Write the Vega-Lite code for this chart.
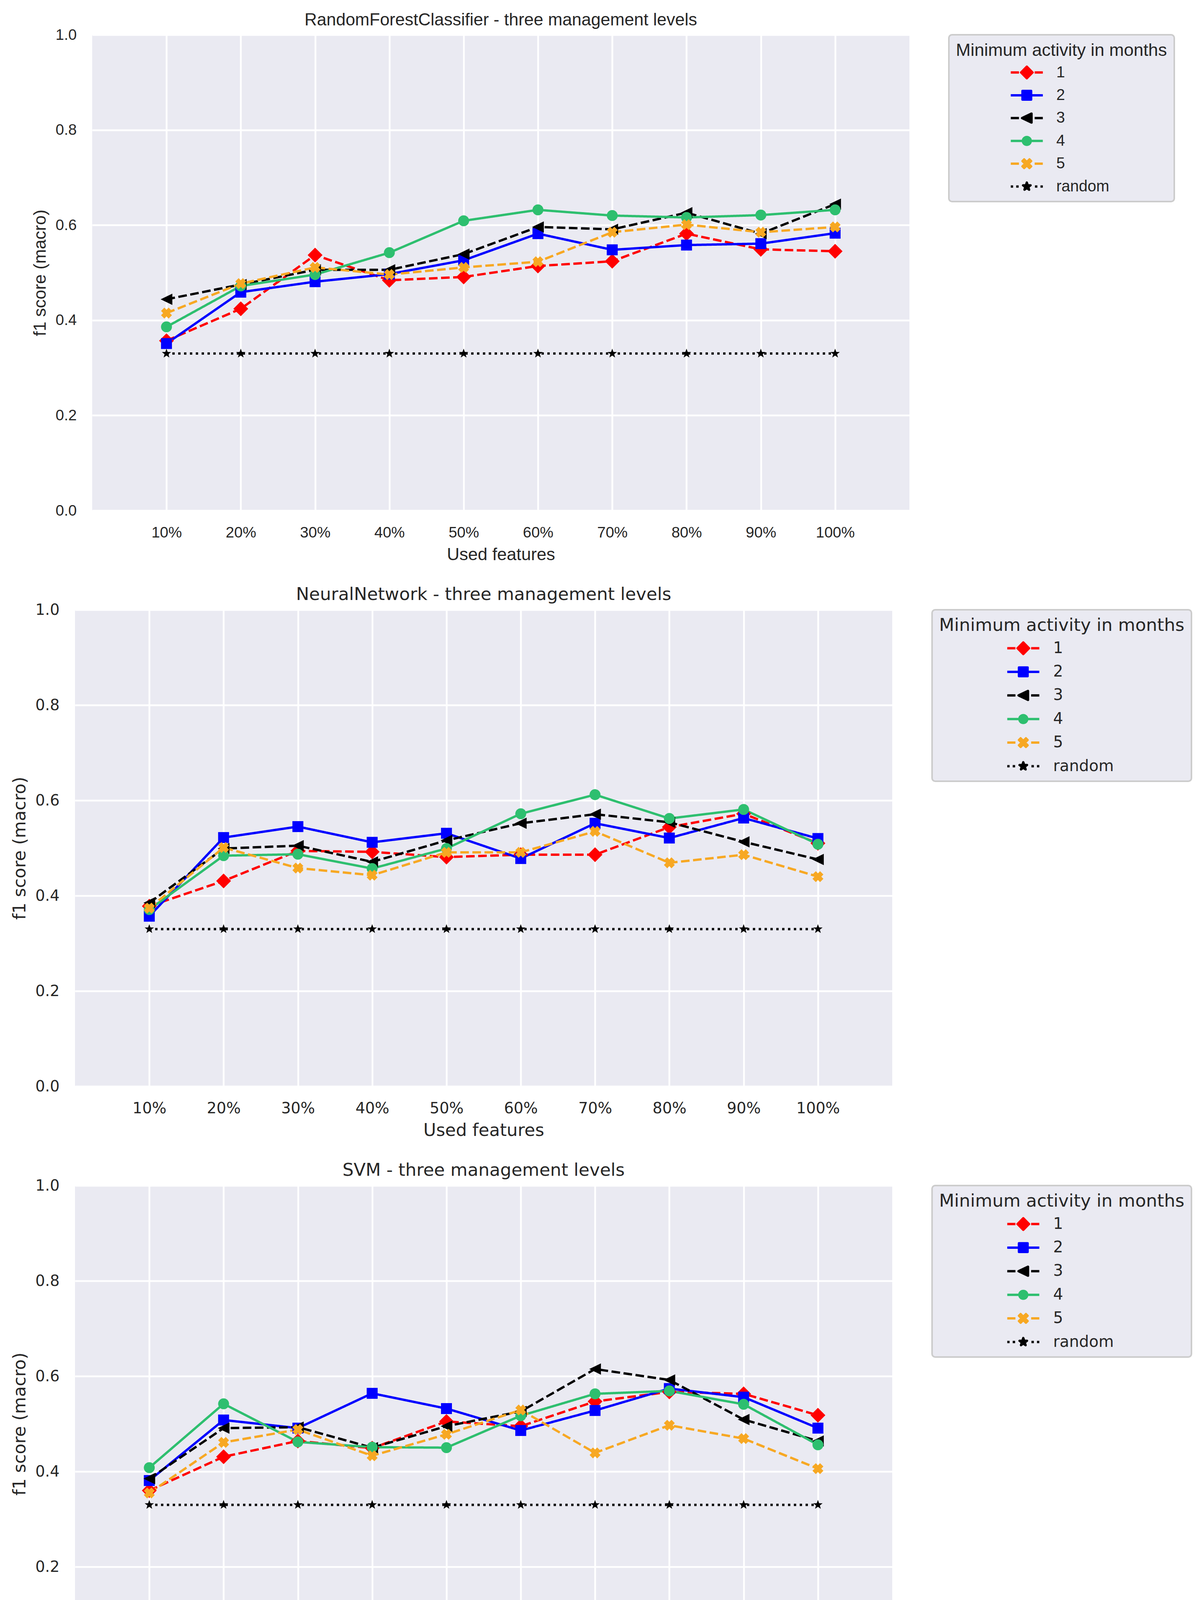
{
"$schema": "https://vega.github.io/schema/vega-lite/v6.json",
"background": "white",
"padding": {"left": 28, "top": 30, "right": 0, "bottom": 0},
"config": {"view": {"stroke": null, "fill": "#EAEAF2"}},
"datasets": {
"rf": [
{"s":"1","p":10,"f1":0.357},{"s":"1","p":20,"f1":0.424},{"s":"1","p":30,"f1":0.537},{"s":"1","p":40,"f1":0.484},{"s":"1","p":50,"f1":0.491},{"s":"1","p":60,"f1":0.514},{"s":"1","p":70,"f1":0.524},{"s":"1","p":80,"f1":0.582},{"s":"1","p":90,"f1":0.549},{"s":"1","p":100,"f1":0.545},
{"s":"2","p":10,"f1":0.351},{"s":"2","p":20,"f1":0.459},{"s":"2","p":30,"f1":0.481},{"s":"2","p":40,"f1":0.497},{"s":"2","p":50,"f1":0.526},{"s":"2","p":60,"f1":0.582},{"s":"2","p":70,"f1":0.548},{"s":"2","p":80,"f1":0.558},{"s":"2","p":90,"f1":0.561},{"s":"2","p":100,"f1":0.583},
{"s":"3","p":10,"f1":0.444},{"s":"3","p":20,"f1":0.475},{"s":"3","p":30,"f1":0.506},{"s":"3","p":40,"f1":0.506},{"s":"3","p":50,"f1":0.539},{"s":"3","p":60,"f1":0.596},{"s":"3","p":70,"f1":0.591},{"s":"3","p":80,"f1":0.626},{"s":"3","p":90,"f1":0.582},{"s":"3","p":100,"f1":0.644},
{"s":"4","p":10,"f1":0.386},{"s":"4","p":20,"f1":0.472},{"s":"4","p":30,"f1":0.496},{"s":"4","p":40,"f1":0.542},{"s":"4","p":50,"f1":0.609},{"s":"4","p":60,"f1":0.632},{"s":"4","p":70,"f1":0.620},{"s":"4","p":80,"f1":0.616},{"s":"4","p":90,"f1":0.621},{"s":"4","p":100,"f1":0.632},
{"s":"5","p":10,"f1":0.415},{"s":"5","p":20,"f1":0.477},{"s":"5","p":30,"f1":0.511},{"s":"5","p":40,"f1":0.496},{"s":"5","p":50,"f1":0.511},{"s":"5","p":60,"f1":0.523},{"s":"5","p":70,"f1":0.585},{"s":"5","p":80,"f1":0.601},{"s":"5","p":90,"f1":0.585},{"s":"5","p":100,"f1":0.596},
{"s":"random","p":10,"f1":0.33},{"s":"random","p":20,"f1":0.33},{"s":"random","p":30,"f1":0.33},{"s":"random","p":40,"f1":0.33},{"s":"random","p":50,"f1":0.33},{"s":"random","p":60,"f1":0.33},{"s":"random","p":70,"f1":0.33},{"s":"random","p":80,"f1":0.33},{"s":"random","p":90,"f1":0.33},{"s":"random","p":100,"f1":0.33}
],
"nn": [
{"s":"1","p":10,"f1":0.378},{"s":"1","p":20,"f1":0.431},{"s":"1","p":30,"f1":0.494},{"s":"1","p":40,"f1":0.492},{"s":"1","p":50,"f1":0.481},{"s":"1","p":60,"f1":0.486},{"s":"1","p":70,"f1":0.486},{"s":"1","p":80,"f1":0.544},{"s":"1","p":90,"f1":0.572},{"s":"1","p":100,"f1":0.510},
{"s":"2","p":10,"f1":0.357},{"s":"2","p":20,"f1":0.522},{"s":"2","p":30,"f1":0.545},{"s":"2","p":40,"f1":0.512},{"s":"2","p":50,"f1":0.531},{"s":"2","p":60,"f1":0.478},{"s":"2","p":70,"f1":0.552},{"s":"2","p":80,"f1":0.521},{"s":"2","p":90,"f1":0.563},{"s":"2","p":100,"f1":0.520},
{"s":"3","p":10,"f1":0.385},{"s":"3","p":20,"f1":0.499},{"s":"3","p":30,"f1":0.505},{"s":"3","p":40,"f1":0.471},{"s":"3","p":50,"f1":0.516},{"s":"3","p":60,"f1":0.552},{"s":"3","p":70,"f1":0.571},{"s":"3","p":80,"f1":0.554},{"s":"3","p":90,"f1":0.513},{"s":"3","p":100,"f1":0.476},
{"s":"4","p":10,"f1":0.371},{"s":"4","p":20,"f1":0.484},{"s":"4","p":30,"f1":0.487},{"s":"4","p":40,"f1":0.457},{"s":"4","p":50,"f1":0.499},{"s":"4","p":60,"f1":0.572},{"s":"4","p":70,"f1":0.612},{"s":"4","p":80,"f1":0.562},{"s":"4","p":90,"f1":0.581},{"s":"4","p":100,"f1":0.508},
{"s":"5","p":10,"f1":0.374},{"s":"5","p":20,"f1":0.501},{"s":"5","p":30,"f1":0.458},{"s":"5","p":40,"f1":0.443},{"s":"5","p":50,"f1":0.491},{"s":"5","p":60,"f1":0.491},{"s":"5","p":70,"f1":0.535},{"s":"5","p":80,"f1":0.469},{"s":"5","p":90,"f1":0.486},{"s":"5","p":100,"f1":0.440},
{"s":"random","p":10,"f1":0.33},{"s":"random","p":20,"f1":0.33},{"s":"random","p":30,"f1":0.33},{"s":"random","p":40,"f1":0.33},{"s":"random","p":50,"f1":0.33},{"s":"random","p":60,"f1":0.33},{"s":"random","p":70,"f1":0.33},{"s":"random","p":80,"f1":0.33},{"s":"random","p":90,"f1":0.33},{"s":"random","p":100,"f1":0.33}
],
"svm": [
{"s":"1","p":10,"f1":0.360},{"s":"1","p":20,"f1":0.431},{"s":"1","p":30,"f1":0.464},{"s":"1","p":40,"f1":0.449},{"s":"1","p":50,"f1":0.505},{"s":"1","p":60,"f1":0.495},{"s":"1","p":70,"f1":0.547},{"s":"1","p":80,"f1":0.567},{"s":"1","p":90,"f1":0.563},{"s":"1","p":100,"f1":0.518},
{"s":"2","p":10,"f1":0.381},{"s":"2","p":20,"f1":0.508},{"s":"2","p":30,"f1":0.491},{"s":"2","p":40,"f1":0.564},{"s":"2","p":50,"f1":0.532},{"s":"2","p":60,"f1":0.486},{"s":"2","p":70,"f1":0.528},{"s":"2","p":80,"f1":0.574},{"s":"2","p":90,"f1":0.556},{"s":"2","p":100,"f1":0.491},
{"s":"3","p":10,"f1":0.385},{"s":"3","p":20,"f1":0.491},{"s":"3","p":30,"f1":0.493},{"s":"3","p":40,"f1":0.450},{"s":"3","p":50,"f1":0.495},{"s":"3","p":60,"f1":0.526},{"s":"3","p":70,"f1":0.615},{"s":"3","p":80,"f1":0.592},{"s":"3","p":90,"f1":0.509},{"s":"3","p":100,"f1":0.464},
{"s":"4","p":10,"f1":0.408},{"s":"4","p":20,"f1":0.542},{"s":"4","p":30,"f1":0.462},{"s":"4","p":40,"f1":0.451},{"s":"4","p":50,"f1":0.450},{"s":"4","p":60,"f1":0.517},{"s":"4","p":70,"f1":0.563},{"s":"4","p":80,"f1":0.569},{"s":"4","p":90,"f1":0.541},{"s":"4","p":100,"f1":0.456},
{"s":"5","p":10,"f1":0.355},{"s":"5","p":20,"f1":0.461},{"s":"5","p":30,"f1":0.488},{"s":"5","p":40,"f1":0.433},{"s":"5","p":50,"f1":0.478},{"s":"5","p":60,"f1":0.529},{"s":"5","p":70,"f1":0.439},{"s":"5","p":80,"f1":0.497},{"s":"5","p":90,"f1":0.469},{"s":"5","p":100,"f1":0.406},
{"s":"random","p":10,"f1":0.33},{"s":"random","p":20,"f1":0.33},{"s":"random","p":30,"f1":0.33},{"s":"random","p":40,"f1":0.33},{"s":"random","p":50,"f1":0.33},{"s":"random","p":60,"f1":0.33},{"s":"random","p":70,"f1":0.33},{"s":"random","p":80,"f1":0.33},{"s":"random","p":90,"f1":0.33},{"s":"random","p":100,"f1":0.33}
]
},
"vconcat": [
{
"title": {"text": "RandomForestClassifier - three management levels", "font": "Liberation Sans", "fontSize": 44, "fontWeight": "normal", "color": "#262626", "frame": "group", "anchor": "middle", "baseline": "alphabetic", "offset": -39},
"width": 2092, "height": 1218,
"data": {"name": "rf"},
"encoding": {
"x": {"field": "p", "type": "quantitative", "scale": {"domain": [0, 110], "nice": false, "zero": false}, "axis": {"values": [10,20,30,40,50,60,70,80,90,100], "labelExpr": "datum.value + '%'", "title": "Used features", "grid": true, "gridColor": "white", "gridWidth": 4.5, "domain": false, "ticks": false, "tickSize": 0, "labelPadding": 37, "labelFont": "Liberation Sans", "labelFontSize": 39, "labelColor": "#262626", "labelFlush": false, "labelOverlap": false, "titleFont": "Liberation Sans", "titleFontSize": 44.5, "titleFontWeight": "normal", "titleColor": "#262626", "titlePadding": 15}},
"y": {"field": "f1", "type": "quantitative", "scale": {"domain": [0, 1], "nice": false}, "axis": {"values": [0,0.2,0.4,0.6,0.8,1.0], "format": ".1f", "title": "f1 score (macro)", "grid": true, "gridColor": "white", "gridWidth": 4.5, "domain": false, "ticks": false, "tickSize": 0, "labelPadding": 40, "labelFont": "Liberation Sans", "labelFontSize": 39, "labelColor": "#262626", "labelFlush": false, "labelOverlap": false, "titleFont": "Liberation Sans", "titleFontSize": 44.5, "titleFontWeight": "normal", "titleColor": "#262626", "titlePadding": 16}}
},
"layer": [
{"mark": {"type": "line", "strokeWidth": 6, "strokeCap": "butt", "strokeJoin": "round"},
 "encoding": {
  "color": {"field": "s", "type": "nominal", "scale": {"domain": ["1","2","3","4","5","random"], "range": ["#FF0000","#0000FF","#000000","#2EBF6F","#F7A823","#000000"]}, "legend": null},
  "strokeDash": {"field": "s", "type": "nominal", "scale": {"domain": ["1","2","3","4","5","random"], "range": [[22,9],[1,0],[22,9],[1,0],[22,9],[6,9]]}, "legend": null}
 }},
{"mark": {"type": "point", "filled": true, "opacity": 1, "size": 1444, "strokeWidth": 0},
 "encoding": {
  "color": {"field": "s", "type": "nominal", "scale": {"domain": ["1","2","3","4","5","random"], "range": ["#FF0000","#0000FF","#000000","#2EBF6F","#F7A823","#000000"]}, "legend": null},
  "shape": {"field": "s", "type": "nominal", "scale": {"domain": ["1","2","3","4","5","random"], "range": ["M0,-1L1,0L0,1L-1,0Z","M-0.737,-0.737H0.737V0.737H-0.737Z","M-0.79,0L0.79,-0.76L0.79,0.76Z","M0.737,0A0.737,0.737,0,1,1,-0.737,0A0.737,0.737,0,1,1,0.737,0Z","M-0.737,-0.287L-0.287,-0.737L0,-0.45L0.287,-0.737L0.737,-0.287L0.45,0L0.737,0.287L0.287,0.737L0,0.45L-0.287,0.737L-0.737,0.287L-0.45,0Z","M0,-0.66L0.159,-0.218L0.628,-0.204L0.257,0.083L0.388,0.534L0,0.27L-0.388,0.534L-0.257,0.083L-0.628,-0.204L-0.159,-0.218Z"]}, "legend": null}
 }},
{"mark": {"type": "point", "filled": true, "opacity": 0, "size": 1681},
 "encoding": {
  "color": {"field": "s", "type": "nominal", "scale": {"domain": ["1","2","3","4","5","random"], "range": ["#FF0000","#0000FF","#000000","#2EBF6F","#F7A823","#000000"]},
   "legend": {"title": "Minimum activity in months", "orient": "right", "offset": 101, "padding": 18, "cornerRadius": 8, "fillColor": "#EAEAF2", "strokeColor": "#CCCCCC",
    "titleFont": "Liberation Sans", "titleFontSize": 45, "titleFontWeight": "normal", "titleColor": "#262626", "titleLimit": 2000, "titlePadding": 10,
    "labelFont": "Liberation Sans", "labelFontSize": 40, "labelColor": "#262626", "labelLimit": 2000, "labelOffset": 52,
    "symbolSize": 1681, "symbolStrokeWidth": 6, "symbolOffset": 158, "rowPadding": 14.4,
    "encode": {"symbols": {"update": {"strokeJoin": {"value": "round"}}}, "legend": {"update": {"strokeWidth": {"value": 4}}}}}},
  "stroke": {"field": "s", "type": "nominal", "scale": {"domain": ["1","2","3","4","5","random"], "range": ["#FF0000","#0000FF","#000000","#2EBF6F","#F7A823","#000000"]}, "legend": {"title": "Minimum activity in months"}},
  "shape": {"field": "s", "type": "nominal", "scale": {"domain": ["1","2","3","4","5","random"], "range": [
   "M-2,0H-0.98M0.98,0H2M0,-0.72L0.72,0L0,0.72L-0.72,0Z",
   "M-2,0H2M-0.54,-0.54H0.54V0.54H-0.54Z",
   "M-2,0H-0.98M0.98,0H2M-0.59,0L0.59,-0.56L0.59,0.56Z",
   "M-2,0H2M0.49,0A0.49,0.49,0,1,1,-0.49,0A0.49,0.49,0,1,1,0.49,0Z",
   "M-2,0H-0.98M0.98,0H2M-0.54,-0.33L-0.33,-0.54L0,-0.21L0.33,-0.54L0.54,-0.33L0.21,0L0.54,0.33L0.33,0.54L0,0.21L-0.33,0.54L-0.54,0.33L-0.21,0Z",
   "M-2,0H-1.71M-1.32,0H-1.02M1.02,0H1.32M1.71,0H2M0,-0.49L0.112,-0.154L0.466,-0.151L0.181,0.059L0.288,0.396L0,0.19L-0.288,0.396L-0.181,0.059L-0.466,-0.151L-0.112,-0.154Z"]}, "legend": {"title": "Minimum activity in months"}}
 }}
],
"resolve": {"scale": {"color": "independent", "shape": "independent", "stroke": "independent", "strokeDash": "independent"}, "legend": {"color": "independent", "shape": "independent", "stroke": "independent", "strokeDash": "independent"}}
},
{
"title": {"text": "NeuralNetwork - three management levels", "font": "DejaVu Sans", "fontSize": 45, "fontWeight": "normal", "color": "#262626", "frame": "group", "anchor": "middle", "baseline": "alphabetic", "offset": -39},
"width": 2092, "height": 1220,
"data": {"name": "nn"},
"encoding": {
"x": {"field": "p", "type": "quantitative", "scale": {"domain": [0, 110], "nice": false, "zero": false}, "axis": {"values": [10,20,30,40,50,60,70,80,90,100], "labelExpr": "datum.value + '%'", "title": "Used features", "grid": true, "gridColor": "white", "gridWidth": 4.5, "domain": false, "ticks": false, "tickSize": 0, "labelPadding": 37, "labelFont": "DejaVu Sans", "labelFontSize": 39, "labelColor": "#262626", "labelFlush": false, "labelOverlap": false, "titleFont": "DejaVu Sans", "titleFontSize": 44.5, "titleFontWeight": "normal", "titleColor": "#262626", "titlePadding": 15}},
"y": {"field": "f1", "type": "quantitative", "scale": {"domain": [0, 1], "nice": false}, "axis": {"values": [0,0.2,0.4,0.6,0.8,1.0], "format": ".1f", "title": "f1 score (macro)", "grid": true, "gridColor": "white", "gridWidth": 4.5, "domain": false, "ticks": false, "tickSize": 0, "labelPadding": 40, "labelFont": "DejaVu Sans", "labelFontSize": 39, "labelColor": "#262626", "labelFlush": false, "labelOverlap": false, "titleFont": "DejaVu Sans", "titleFontSize": 44.5, "titleFontWeight": "normal", "titleColor": "#262626", "titlePadding": 16}}
},
"layer": [
{"mark": {"type": "line", "strokeWidth": 6, "strokeCap": "butt", "strokeJoin": "round"},
 "encoding": {
  "color": {"field": "s", "type": "nominal", "scale": {"domain": ["1","2","3","4","5","random"], "range": ["#FF0000","#0000FF","#000000","#2EBF6F","#F7A823","#000000"]}, "legend": null},
  "strokeDash": {"field": "s", "type": "nominal", "scale": {"domain": ["1","2","3","4","5","random"], "range": [[22,9],[1,0],[22,9],[1,0],[22,9],[6,9]]}, "legend": null}
 }},
{"mark": {"type": "point", "filled": true, "opacity": 1, "size": 1444, "strokeWidth": 0},
 "encoding": {
  "color": {"field": "s", "type": "nominal", "scale": {"domain": ["1","2","3","4","5","random"], "range": ["#FF0000","#0000FF","#000000","#2EBF6F","#F7A823","#000000"]}, "legend": null},
  "shape": {"field": "s", "type": "nominal", "scale": {"domain": ["1","2","3","4","5","random"], "range": ["M0,-1L1,0L0,1L-1,0Z","M-0.737,-0.737H0.737V0.737H-0.737Z","M-0.79,0L0.79,-0.76L0.79,0.76Z","M0.737,0A0.737,0.737,0,1,1,-0.737,0A0.737,0.737,0,1,1,0.737,0Z","M-0.737,-0.287L-0.287,-0.737L0,-0.45L0.287,-0.737L0.737,-0.287L0.45,0L0.737,0.287L0.287,0.737L0,0.45L-0.287,0.737L-0.737,0.287L-0.45,0Z","M0,-0.66L0.159,-0.218L0.628,-0.204L0.257,0.083L0.388,0.534L0,0.27L-0.388,0.534L-0.257,0.083L-0.628,-0.204L-0.159,-0.218Z"]}, "legend": null}
 }},
{"mark": {"type": "point", "filled": true, "opacity": 0, "size": 1681},
 "encoding": {
  "color": {"field": "s", "type": "nominal", "scale": {"domain": ["1","2","3","4","5","random"], "range": ["#FF0000","#0000FF","#000000","#2EBF6F","#F7A823","#000000"]},
   "legend": {"title": "Minimum activity in months", "orient": "right", "offset": 102, "padding": 18, "cornerRadius": 8, "fillColor": "#EAEAF2", "strokeColor": "#CCCCCC",
    "titleFont": "DejaVu Sans", "titleFontSize": 45, "titleFontWeight": "normal", "titleColor": "#262626", "titleLimit": 2000, "titlePadding": 12,
    "labelFont": "DejaVu Sans", "labelFontSize": 40, "labelColor": "#262626", "labelLimit": 2000, "labelOffset": 53,
    "symbolSize": 1681, "symbolStrokeWidth": 6, "symbolOffset": 192, "rowPadding": 16.4,
    "encode": {"symbols": {"update": {"strokeJoin": {"value": "round"}}}, "legend": {"update": {"strokeWidth": {"value": 4}}}}}},
  "stroke": {"field": "s", "type": "nominal", "scale": {"domain": ["1","2","3","4","5","random"], "range": ["#FF0000","#0000FF","#000000","#2EBF6F","#F7A823","#000000"]}, "legend": {"title": "Minimum activity in months"}},
  "shape": {"field": "s", "type": "nominal", "scale": {"domain": ["1","2","3","4","5","random"], "range": [
   "M-2,0H-0.98M0.98,0H2M0,-0.72L0.72,0L0,0.72L-0.72,0Z",
   "M-2,0H2M-0.54,-0.54H0.54V0.54H-0.54Z",
   "M-2,0H-0.98M0.98,0H2M-0.59,0L0.59,-0.56L0.59,0.56Z",
   "M-2,0H2M0.49,0A0.49,0.49,0,1,1,-0.49,0A0.49,0.49,0,1,1,0.49,0Z",
   "M-2,0H-0.98M0.98,0H2M-0.54,-0.33L-0.33,-0.54L0,-0.21L0.33,-0.54L0.54,-0.33L0.21,0L0.54,0.33L0.33,0.54L0,0.21L-0.33,0.54L-0.54,0.33L-0.21,0Z",
   "M-2,0H-1.71M-1.32,0H-1.02M1.02,0H1.32M1.71,0H2M0,-0.49L0.112,-0.154L0.466,-0.151L0.181,0.059L0.288,0.396L0,0.19L-0.288,0.396L-0.181,0.059L-0.466,-0.151L-0.112,-0.154Z"]}, "legend": {"title": "Minimum activity in months"}}
 }}
],
"resolve": {"scale": {"color": "independent", "shape": "independent", "stroke": "independent", "strokeDash": "independent"}, "legend": {"color": "independent", "shape": "independent", "stroke": "independent", "strokeDash": "independent"}}
},
{
"title": {"text": "SVM - three management levels", "font": "DejaVu Sans", "fontSize": 45, "fontWeight": "normal", "color": "#262626", "frame": "group", "anchor": "middle", "baseline": "alphabetic", "offset": -39},
"width": 2092, "height": 1220,
"data": {"name": "svm"},
"encoding": {
"x": {"field": "p", "type": "quantitative", "scale": {"domain": [0, 110], "nice": false, "zero": false}, "axis": {"values": [10,20,30,40,50,60,70,80,90,100], "labelExpr": "datum.value + '%'", "title": "Used features", "grid": true, "gridColor": "white", "gridWidth": 4.5, "domain": false, "ticks": false, "tickSize": 0, "labelPadding": 37, "labelFont": "DejaVu Sans", "labelFontSize": 39, "labelColor": "#262626", "labelFlush": false, "labelOverlap": false, "titleFont": "DejaVu Sans", "titleFontSize": 44.5, "titleFontWeight": "normal", "titleColor": "#262626", "titlePadding": 15}},
"y": {"field": "f1", "type": "quantitative", "scale": {"domain": [0, 1], "nice": false}, "axis": {"values": [0,0.2,0.4,0.6,0.8,1.0], "format": ".1f", "title": "f1 score (macro)", "grid": true, "gridColor": "white", "gridWidth": 4.5, "domain": false, "ticks": false, "tickSize": 0, "labelPadding": 40, "labelFont": "DejaVu Sans", "labelFontSize": 39, "labelColor": "#262626", "labelFlush": false, "labelOverlap": false, "titleFont": "DejaVu Sans", "titleFontSize": 44.5, "titleFontWeight": "normal", "titleColor": "#262626", "titlePadding": 16}}
},
"layer": [
{"mark": {"type": "line", "strokeWidth": 6, "strokeCap": "butt", "strokeJoin": "round"},
 "encoding": {
  "color": {"field": "s", "type": "nominal", "scale": {"domain": ["1","2","3","4","5","random"], "range": ["#FF0000","#0000FF","#000000","#2EBF6F","#F7A823","#000000"]}, "legend": null},
  "strokeDash": {"field": "s", "type": "nominal", "scale": {"domain": ["1","2","3","4","5","random"], "range": [[22,9],[1,0],[22,9],[1,0],[22,9],[6,9]]}, "legend": null}
 }},
{"mark": {"type": "point", "filled": true, "opacity": 1, "size": 1444, "strokeWidth": 0},
 "encoding": {
  "color": {"field": "s", "type": "nominal", "scale": {"domain": ["1","2","3","4","5","random"], "range": ["#FF0000","#0000FF","#000000","#2EBF6F","#F7A823","#000000"]}, "legend": null},
  "shape": {"field": "s", "type": "nominal", "scale": {"domain": ["1","2","3","4","5","random"], "range": ["M0,-1L1,0L0,1L-1,0Z","M-0.737,-0.737H0.737V0.737H-0.737Z","M-0.79,0L0.79,-0.76L0.79,0.76Z","M0.737,0A0.737,0.737,0,1,1,-0.737,0A0.737,0.737,0,1,1,0.737,0Z","M-0.737,-0.287L-0.287,-0.737L0,-0.45L0.287,-0.737L0.737,-0.287L0.45,0L0.737,0.287L0.287,0.737L0,0.45L-0.287,0.737L-0.737,0.287L-0.45,0Z","M0,-0.66L0.159,-0.218L0.628,-0.204L0.257,0.083L0.388,0.534L0,0.27L-0.388,0.534L-0.257,0.083L-0.628,-0.204L-0.159,-0.218Z"]}, "legend": null}
 }},
{"mark": {"type": "point", "filled": true, "opacity": 0, "size": 1681},
 "encoding": {
  "color": {"field": "s", "type": "nominal", "scale": {"domain": ["1","2","3","4","5","random"], "range": ["#FF0000","#0000FF","#000000","#2EBF6F","#F7A823","#000000"]},
   "legend": {"title": "Minimum activity in months", "orient": "right", "offset": 102, "padding": 18, "cornerRadius": 8, "fillColor": "#EAEAF2", "strokeColor": "#CCCCCC",
    "titleFont": "DejaVu Sans", "titleFontSize": 45, "titleFontWeight": "normal", "titleColor": "#262626", "titleLimit": 2000, "titlePadding": 12,
    "labelFont": "DejaVu Sans", "labelFontSize": 40, "labelColor": "#262626", "labelLimit": 2000, "labelOffset": 53,
    "symbolSize": 1681, "symbolStrokeWidth": 6, "symbolOffset": 192, "rowPadding": 16.4,
    "encode": {"symbols": {"update": {"strokeJoin": {"value": "round"}}}, "legend": {"update": {"strokeWidth": {"value": 4}}}}}},
  "stroke": {"field": "s", "type": "nominal", "scale": {"domain": ["1","2","3","4","5","random"], "range": ["#FF0000","#0000FF","#000000","#2EBF6F","#F7A823","#000000"]}, "legend": {"title": "Minimum activity in months"}},
  "shape": {"field": "s", "type": "nominal", "scale": {"domain": ["1","2","3","4","5","random"], "range": [
   "M-2,0H-0.98M0.98,0H2M0,-0.72L0.72,0L0,0.72L-0.72,0Z",
   "M-2,0H2M-0.54,-0.54H0.54V0.54H-0.54Z",
   "M-2,0H-0.98M0.98,0H2M-0.59,0L0.59,-0.56L0.59,0.56Z",
   "M-2,0H2M0.49,0A0.49,0.49,0,1,1,-0.49,0A0.49,0.49,0,1,1,0.49,0Z",
   "M-2,0H-0.98M0.98,0H2M-0.54,-0.33L-0.33,-0.54L0,-0.21L0.33,-0.54L0.54,-0.33L0.21,0L0.54,0.33L0.33,0.54L0,0.21L-0.33,0.54L-0.54,0.33L-0.21,0Z",
   "M-2,0H-1.71M-1.32,0H-1.02M1.02,0H1.32M1.71,0H2M0,-0.49L0.112,-0.154L0.466,-0.151L0.181,0.059L0.288,0.396L0,0.19L-0.288,0.396L-0.181,0.059L-0.466,-0.151L-0.112,-0.154Z"]}, "legend": {"title": "Minimum activity in months"}}
 }}
],
"resolve": {"scale": {"color": "independent", "shape": "independent", "stroke": "independent", "strokeDash": "independent"}, "legend": {"color": "independent", "shape": "independent", "stroke": "independent", "strokeDash": "independent"}}
}
],
"spacing": 58,
"center": true,
"resolve": {"scale": {"color": "independent", "shape": "independent", "stroke": "independent", "strokeDash": "independent"}, "legend": {"color": "independent", "shape": "independent", "stroke": "independent", "strokeDash": "independent"}}
}
